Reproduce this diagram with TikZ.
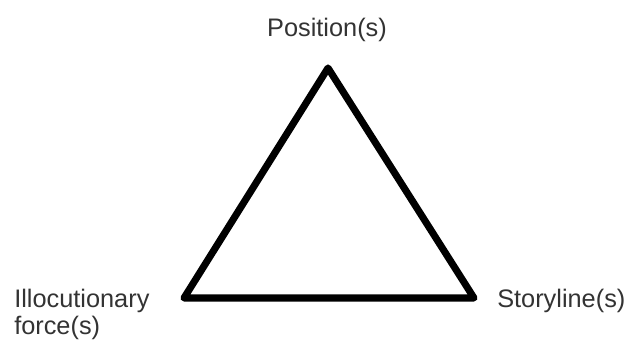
\documentclass[tikz,border=0pt]{standalone}
\usepackage{fontspec}
\setmainfont{Liberation Sans}
\usetikzlibrary{positioning}
\definecolor{pgtext}{HTML}{333333}
\tikzset{
  side/.style   = {draw=black, line width=5.3pt, line join=round},
  corner/.style = {font=\fontsize{19}{20.5}\selectfont, text=pgtext,
                   inner sep=0pt, align=left},
}

\begin{document}
\begin{tikzpicture}[x=0.75pt, y=-0.75pt]
  \useasboundingbox (0,0) rectangle (632,342);

  % ---------- corners ---------------------------------------------------
  \coordinate (pos) at (328, 68);
  \coordinate (ill) at (184, 298);
  \coordinate (sto) at (474, 298);

  % ---------- triangle --------------------------------------------------
  \draw[side] (pos) -- (sto) -- (ill) -- cycle;

  % ---------- labels ----------------------------------------------------
  \node[corner, anchor=base] (posl) at (327, 37) {Position(s)};
  \node[corner, anchor=base west] (stol) at (497, 307) {Storyline(s)};
  \node[corner, anchor=north west] (ill1) at (14, 289) {Illocutionary\\force(s)};

\end{tikzpicture}
\end{document}
